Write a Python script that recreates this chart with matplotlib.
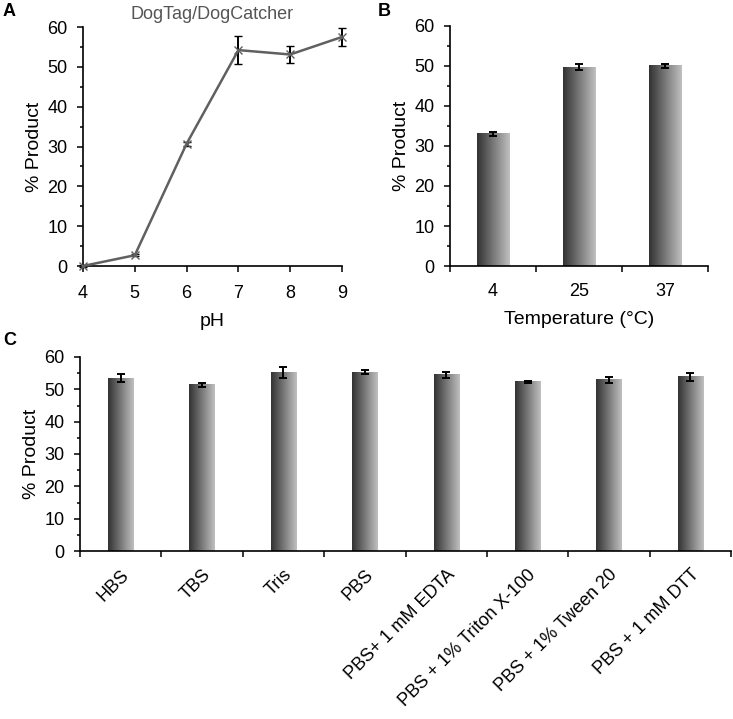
import matplotlib.pyplot as plt
import numpy as np
from matplotlib.ticker import MultipleLocator

plt.rcParams['font.family'] = ['Liberation Sans', 'DejaVu Sans']
plt.rcParams['font.size'] = 13

# panel A: pH series
ph = [4, 5, 6, 7, 8, 9]
ph_product = [0.0, 2.7, 30.7, 54.2, 53.1, 57.5]
ph_err = [0.2, 0.3, 0.5, 3.5, 2.2, 2.3]

# panel B: temperature
temp_labels = ['4', '25', '37']
temp_product = [33.0, 49.7, 50.0]
temp_err = [0.6, 0.8, 0.6]

# panel C: buffers
buffer_labels = ['HBS', 'TBS', 'Tris', 'PBS', 'PBS+ 1 mM EDTA',
                 'PBS + 1% Triton X-100', 'PBS + 1% Tween 20', 'PBS + 1 mM DTT']
buffer_product = [53.5, 51.4, 55.2, 55.3, 54.5, 52.3, 53.0, 53.9]
buffer_err = [1.1, 0.6, 1.6, 0.6, 1.0, 0.3, 0.9, 1.2]

W, H = 733, 719
fig = plt.figure(figsize=(W / 100, H / 100), dpi=100)


def px_axes(x0, y0, x1, y1):
    return fig.add_axes([x0 / W, 1 - y1 / H, (x1 - x0) / W, (y1 - y0) / H])


def style_axes(ax):
    for s in ['top', 'right']:
        ax.spines[s].set_visible(False)
    for s in ['left', 'bottom']:
        ax.spines[s].set_linewidth(1.2)
    ax.set_ylim(0, 60)
    ax.yaxis.set_major_locator(MultipleLocator(10))
    ax.yaxis.set_minor_locator(MultipleLocator(5))
    ax.tick_params(axis='y', which='major', length=4, width=1.1, labelsize=13, pad=7)
    ax.tick_params(axis='y', which='minor', length=2.5, width=1.1)
    ax.tick_params(axis='x', length=4, width=1.1, labelsize=13, pad=9.5)


def gradient_bars(ax, values, errs, width):
    n = len(values)
    x = np.arange(n)
    bars = ax.bar(x, values, width=width, color='none', edgecolor='none', zorder=2)
    grad = np.linspace(0.2, 0.75, 64)[None, :]
    for b in bars:
        x0, y0 = b.get_x(), b.get_y()
        ax.imshow(grad, cmap='gray', vmin=0, vmax=1, aspect='auto',
                  extent=[x0, x0 + b.get_width(), y0, y0 + b.get_height()],
                  interpolation='bilinear', zorder=2)
    ax.errorbar(x, values, yerr=errs, fmt='none', ecolor='black',
                elinewidth=1.4, capsize=3, capthick=1.4, zorder=3)
    ax.set_xlim(-0.5, n - 0.5)
    ax.set_ylim(0, 60)
    ax.set_xticks(np.arange(-0.5, n, 1.0))
    ax.set_xticklabels([])
    ax.set_xticks(x, minor=True)
    ax.tick_params(axis='x', which='minor', length=0)
    return x


# A
axA = px_axes(83, 27, 342, 266)
style_axes(axA)
axA.errorbar(ph, ph_product, yerr=ph_err, color='#606060', lw=1.8,
             marker='x', ms=6, mew=1.0, ecolor='black', elinewidth=1.4,
             capsize=3, capthick=1.4, clip_on=False, zorder=3)
axA.set_xlim(4, 9)
axA.set_xticks(ph)
axA.set_ylabel('% Product', fontsize=14, labelpad=3)
axA.set_xlabel('pH', fontsize=14, labelpad=8)
axA.set_title('DogTag/DogCatcher', fontsize=13, color='#555555', pad=6)

# B
axB = px_axes(450, 26, 708, 266)
style_axes(axB)
xb = gradient_bars(axB, temp_product, temp_err, 0.38)
axB.set_xticklabels(temp_labels, minor=True, fontsize=13)
axB.tick_params(axis='x', which='minor', pad=12.5)
axB.set_ylabel('% Product', fontsize=14, labelpad=3)
axB.set_xlabel('Temperature (°C)', fontsize=14, labelpad=8)

# C
axC = px_axes(80, 357, 731, 551)
style_axes(axC)
xc = gradient_bars(axC, buffer_product, buffer_err, 0.31)
axC.set_xticklabels(buffer_labels, minor=True, rotation=45, ha='right',
                    rotation_mode='anchor', fontsize=13)
axC.tick_params(axis='x', which='minor', pad=11)
axC.set_ylabel('% Product', fontsize=14, labelpad=3)

fig.text(3 / W, 1 - 3 / H, 'A', fontsize=13, fontweight='bold', va='top')
fig.text(378 / W, 1 - 3 / H, 'B', fontsize=13, fontweight='bold', va='top')
fig.text(3 / W, 1 - 332 / H, 'C', fontsize=13, fontweight='bold', va='top')

fig.savefig('out.png', dpi=100)
